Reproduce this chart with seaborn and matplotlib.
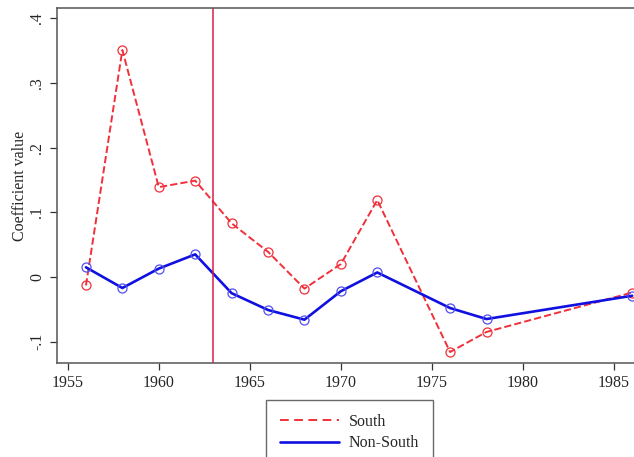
import pandas as pd
import matplotlib
matplotlib.use("Agg")
import matplotlib.pyplot as plt
import seaborn as sns
from matplotlib.lines import Line2D

# Values
years = [1956, 1958, 1960, 1962, 1964, 1966, 1968, 1970, 1972, 1976, 1978, 1986]
south = [-0.013, 0.351, 0.139, 0.149, 0.083, 0.039, -0.018, 0.020, 0.119, -0.116, -0.085, -0.024]
non_south = [0.015, -0.017, 0.013, 0.035, -0.025, -0.051, -0.066, -0.022, 0.007, -0.048, -0.065, -0.029]
policy_year = 1963
y_ticks = [-0.1, 0, 0.1, 0.2, 0.3, 0.4]
y_labels = ["-.1", "0", ".1", ".2", ".3", ".4"]
x_ticks = [1955, 1960, 1965, 1970, 1975, 1980, 1985]

df = pd.DataFrame({"year": years, "South": south, "Non-South": non_south})

sns.set_style("white")
plt.rcParams["font.family"] = ["Liberation Serif", "DejaVu Serif"]

red = "#f0303a"
blue = "#1010e0"
dash = (4.5, 2.8)

fig = plt.figure(figsize=(6.34, 4.57), dpi=100)
# axes run past the right edge, as in the cropped reference
ax = fig.add_axes([57 / 634, 1 - 363 / 457, 648 / 634, 355 / 457])

sns.lineplot(data=df, x="year", y="South", ax=ax, color=red, linestyle="--",
             linewidth=1.4, marker="o", markersize=6.5, markerfacecolor="none",
             markeredgecolor=red, markeredgewidth=0.9, dashes=dash)
sns.lineplot(data=df, x="year", y="Non-South", ax=ax, color=blue, linewidth=1.9,
             marker="o", markersize=6.5, markerfacecolor="none",
             markeredgecolor="#5050f0", markeredgewidth=0.9)
ax.axvline(policy_year, color="#d81e4a", linewidth=1.1)

ax.set_xlim(1954.41, 1990)
ax.set_ylim(-0.133, 0.416)
ax.set_xticks(x_ticks)
ax.set_yticks(y_ticks)
ax.set_yticklabels(y_labels, rotation=90, va="center")
ax.tick_params(axis="both", direction="out", length=5, width=0.9, color="#333333",
               labelsize=11.5, left=True, bottom=True)
ax.set_xlabel("")
ax.set_ylabel("Coefficient value", fontsize=11.5, labelpad=0.5)
for s in ax.spines.values():
    s.set_color("#555555")
    s.set_linewidth(1.1)

handles = [Line2D([], [], color=red, linestyle="--", linewidth=1.4, dashes=dash),
           Line2D([], [], color=blue, linewidth=1.9)]
leg = fig.legend(handles, ["South", "Non-South"], loc="upper left",
                 bbox_to_anchor=(266 / 634, 1 - 400 / 457), frameon=True,
                 fancybox=False, fontsize=11.5, handlelength=3.75,
                 borderpad=0.85, borderaxespad=0, labelspacing=0.35,
                 handletextpad=0.6)
leg.get_frame().set_edgecolor("#444444")
leg.get_frame().set_linewidth(1.0)

fig.savefig("out.png", dpi=100)
